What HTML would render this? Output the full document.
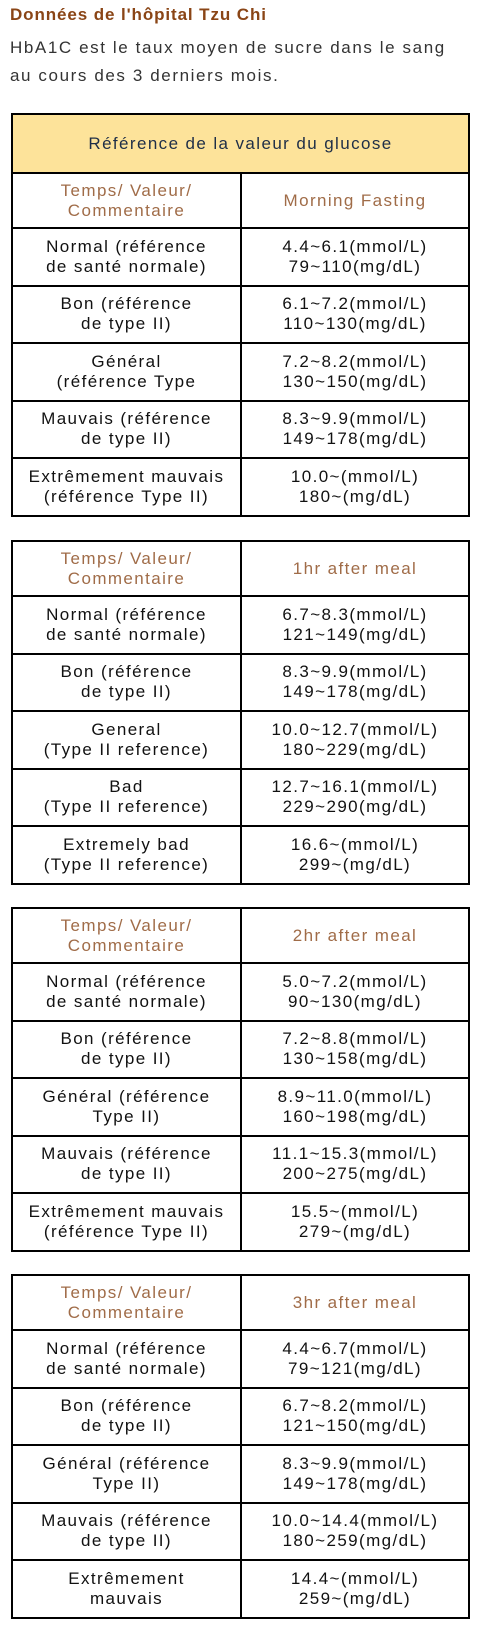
<!DOCTYPE html>
<html><head><meta charset="utf-8"><style>
body{margin:0;width:480px;height:1625px;background:#fff;font-family:"Liberation Sans",sans-serif;position:relative;overflow:hidden}
.title{position:absolute;left:10px;top:5px;font-size:17px;letter-spacing:0.9px;font-weight:bold;color:#8a4516}
.desc{position:absolute;left:10px;top:34px;font-size:17px;letter-spacing:1.6px;line-height:28px;color:#333;width:470px}
table{position:absolute;left:11px;width:459px;border-collapse:collapse;table-layout:fixed;font-size:17px;letter-spacing:1.4px}
td{border:2.5px solid #000;text-align:center;vertical-align:middle;line-height:20px;padding:0 2px;color:#111;white-space:nowrap}
td.h{color:#a06c48;height:53px}
td.y{background:#fde39a;color:#1e2e47;height:57px}
tr.r td{height:55.5px}
col.a{width:229px}
</style></head><body>
<div class="title">Données de l'hôpital Tzu Chi</div>
<div class="desc">HbA1C est le taux moyen de sucre dans le sang<br>au cours des 3 derniers mois.</div>

<table style="top:113px"><colgroup><col class="a"><col></colgroup>
<tr><td class="y" colspan="2">Référence de la valeur du glucose</td></tr>
<tr><td class="h">Temps/ Valeur/<br>Commentaire</td><td class="h">Morning Fasting</td></tr>
<tr class="r"><td>Normal (référence<br>de santé normale)</td><td>4.4~6.1(mmol/L)<br>79~110(mg/dL)</td></tr>
<tr class="r"><td>Bon (référence<br>de type II)</td><td>6.1~7.2(mmol/L)<br>110~130(mg/dL)</td></tr>
<tr class="r"><td>Général<br>(référence Type</td><td>7.2~8.2(mmol/L)<br>130~150(mg/dL)</td></tr>
<tr class="r"><td>Mauvais (référence<br>de type II)</td><td>8.3~9.9(mmol/L)<br>149~178(mg/dL)</td></tr>
<tr class="r"><td>Extrêmement mauvais<br>(référence Type II)</td><td>10.0~(mmol/L)<br>180~(mg/dL)</td></tr>
</table>

<table style="top:540px"><colgroup><col class="a"><col></colgroup>
<tr><td class="h">Temps/ Valeur/<br>Commentaire</td><td class="h">1hr after meal</td></tr>
<tr class="r"><td>Normal (référence<br>de santé normale)</td><td>6.7~8.3(mmol/L)<br>121~149(mg/dL)</td></tr>
<tr class="r"><td>Bon (référence<br>de type II)</td><td>8.3~9.9(mmol/L)<br>149~178(mg/dL)</td></tr>
<tr class="r"><td>General<br>(Type II reference)</td><td>10.0~12.7(mmol/L)<br>180~229(mg/dL)</td></tr>
<tr class="r"><td>Bad<br>(Type II reference)</td><td>12.7~16.1(mmol/L)<br>229~290(mg/dL)</td></tr>
<tr class="r"><td>Extremely bad<br>(Type II reference)</td><td>16.6~(mmol/L)<br>299~(mg/dL)</td></tr>
</table>

<table style="top:907px"><colgroup><col class="a"><col></colgroup>
<tr><td class="h">Temps/ Valeur/<br>Commentaire</td><td class="h">2hr after meal</td></tr>
<tr class="r"><td>Normal (référence<br>de santé normale)</td><td>5.0~7.2(mmol/L)<br>90~130(mg/dL)</td></tr>
<tr class="r"><td>Bon (référence<br>de type II)</td><td>7.2~8.8(mmol/L)<br>130~158(mg/dL)</td></tr>
<tr class="r"><td>Général (référence<br>Type II)</td><td>8.9~11.0(mmol/L)<br>160~198(mg/dL)</td></tr>
<tr class="r"><td>Mauvais (référence<br>de type II)</td><td>11.1~15.3(mmol/L)<br>200~275(mg/dL)</td></tr>
<tr class="r"><td>Extrêmement mauvais<br>(référence Type II)</td><td>15.5~(mmol/L)<br>279~(mg/dL)</td></tr>
</table>

<table style="top:1274px"><colgroup><col class="a"><col></colgroup>
<tr><td class="h">Temps/ Valeur/<br>Commentaire</td><td class="h">3hr after meal</td></tr>
<tr class="r"><td>Normal (référence<br>de santé normale)</td><td>4.4~6.7(mmol/L)<br>79~121(mg/dL)</td></tr>
<tr class="r"><td>Bon (référence<br>de type II)</td><td>6.7~8.2(mmol/L)<br>121~150(mg/dL)</td></tr>
<tr class="r"><td>Général (référence<br>Type II)</td><td>8.3~9.9(mmol/L)<br>149~178(mg/dL)</td></tr>
<tr class="r"><td>Mauvais (référence<br>de type II)</td><td>10.0~14.4(mmol/L)<br>180~259(mg/dL)</td></tr>
<tr class="r"><td>Extrêmement<br>mauvais</td><td>14.4~(mmol/L)<br>259~(mg/dL)</td></tr>
</table>
</body></html>
